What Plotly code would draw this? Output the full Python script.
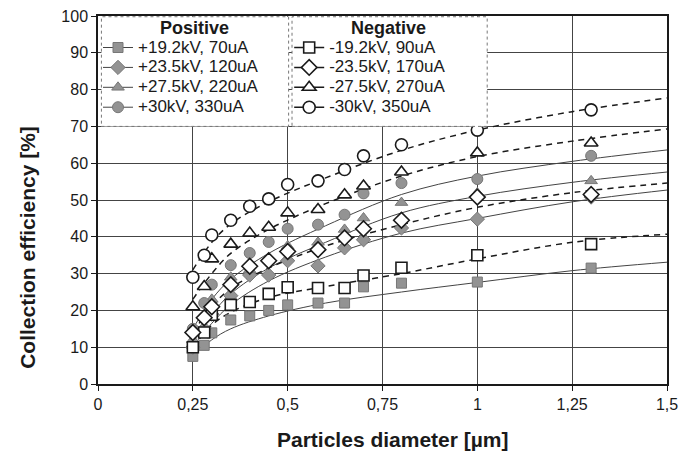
import plotly.graph_objects as go

# ---- data ----
diam = [0.25, 0.28, 0.30, 0.35, 0.40, 0.45, 0.50, 0.58, 0.65, 0.70, 0.80, 1.00, 1.30]

pos_19 = [7.5, 10.5, 13.9, 17.4, 18.5, 20.0, 21.5, 22.0, 22.0, 26.4, 27.4, 27.7, 31.5]
pos_23 = [10.0, 15.0, 19.0, 24.0, 29.6, 29.6, 33.5, 32.1, 37.0, 39.2, 42.4, 44.8, 50.8]
pos_27 = [12.0, 18.0, 23.0, 29.0, 31.0, 34.2, 37.5, 38.5, 42.0, 45.1, 49.3, 51.9, 55.2]
pos_30 = [15.0, 22.0, 27.0, 32.3, 35.6, 38.6, 42.2, 43.3, 46.0, 51.8, 54.6, 55.7, 62.0]

neg_19 = [10.0, 14.0, 18.8, 21.5, 22.3, 24.5, 26.3, 26.1, 26.1, 29.5, 31.6, 35.0, 38.0]
neg_23 = [14.0, 18.0, 21.0, 27.0, 32.0, 33.5, 36.0, 36.5, 39.7, 42.2, 44.5, 50.8, 51.5]
neg_27 = [21.0, 26.5, 34.0, 38.0, 41.0, 42.6, 46.5, 47.4, 51.4, 53.8, 57.6, 62.8, 65.5]
neg_30 = [29.0, 35.0, 40.5, 44.5, 48.3, 50.3, 54.2, 55.2, 58.3, 62.0, 65.0, 69.0, 74.5]

# trend lines
trend_x = [0.25, 0.30, 0.35, 0.45, 0.60, 0.80, 1.00, 1.25, 1.50]
trend_pos_19 = [7.5, 12.0, 15.0, 18.5, 22.0, 25.0, 27.6, 30.8, 33.1]
trend_pos_23 = [10.0, 16.5, 21.5, 28.0, 34.5, 41.0, 45.0, 49.5, 52.7]
trend_pos_27 = [12.0, 19.0, 24.5, 31.5, 38.5, 46.5, 51.0, 54.8, 57.6]
trend_pos_30 = [15.0, 23.0, 28.5, 35.5, 43.0, 51.5, 56.5, 60.5, 63.6]
trend_neg_19 = [10.0, 16.0, 19.5, 23.5, 26.5, 30.0, 34.0, 38.5, 40.7]
trend_neg_23 = [14.0, 21.0, 26.0, 31.5, 37.5, 43.3, 48.0, 52.0, 54.6]
trend_neg_27 = [23.0, 30.0, 35.5, 42.0, 49.0, 56.5, 61.8, 66.0, 69.3]
trend_neg_30 = [31.0, 38.5, 43.5, 49.5, 56.0, 63.5, 69.0, 74.0, 77.7]

pos_labels = ["+19.2kV, 70uA", "+23.5kV, 120uA", "+27.5kV, 220uA", "+30kV, 330uA"]
neg_labels = ["-19.2kV, 90uA", "-23.5kV, 170uA", "-27.5kV, 270uA", "-30kV, 350uA"]

x_ticks = [0, 0.25, 0.5, 0.75, 1, 1.25, 1.5]
y_ticks = list(range(0, 101, 10))

symbols = ["square", "diamond", "triangle-up", "circle"]
pos_series = [pos_19, pos_23, pos_27, pos_30]
neg_series = [neg_19, neg_23, neg_27, neg_30]
pos_trends = [trend_pos_19, trend_pos_23, trend_pos_27, trend_pos_30]
neg_trends = [trend_neg_19, trend_neg_23, trend_neg_27, trend_neg_30]

GRAY = "#939393"
GRAY_EDGE = "#777777"
INK = "#1a1a1a"
msize = [10, 11, 11, 11]

fig = go.Figure()

# trend lines
for tr in pos_trends:
    fig.add_trace(go.Scatter(x=trend_x, y=tr, mode="lines", line=dict(color="#444", width=1, shape="spline"),
                             showlegend=False, hoverinfo="skip"))
for tr in neg_trends:
    fig.add_trace(go.Scatter(x=trend_x, y=tr, mode="lines",
                             line=dict(color=INK, width=1.5, dash="6px,5px", shape="spline"),
                             showlegend=False, hoverinfo="skip"))

# markers
for ser, sym, ms in zip(pos_series, symbols, msize):
    fig.add_trace(go.Scatter(x=diam, y=ser, mode="markers", showlegend=False,
                             marker=dict(symbol=sym, size=ms, color=GRAY, line=dict(color=GRAY_EDGE, width=1))))
for ser, sym, ms in zip(neg_series, symbols, msize):
    fig.add_trace(go.Scatter(x=diam, y=ser, mode="markers", showlegend=False,
                             marker=dict(symbol=sym, size=ms + 1, color="white", line=dict(color=INK, width=1.6))))


def big(s):
    return '<span style="font-size:17px">' + s + '</span>'


# legend entries
for lab, sym, ms in zip(pos_labels, symbols, msize):
    fig.add_trace(go.Scatter(x=[None], y=[None], mode="lines+markers", name=big(lab), legend="legend",
                             line=dict(color="#444", width=1),
                             marker=dict(symbol=sym, size=ms, color=GRAY, line=dict(color=GRAY_EDGE, width=1))))
for lab, sym, ms in zip(neg_labels, symbols, msize):
    fig.add_trace(go.Scatter(x=[None], y=[None], mode="lines+markers", name=big(lab), legend="legend2",
                             line=dict(color=INK, width=1.5),
                             marker=dict(symbol=sym, size=ms + 1, color="white", line=dict(color=INK, width=1.6))))

FONT = "Liberation Sans, Arial, sans-serif"

legend_common = dict(
    bgcolor="rgba(0,0,0,0)", borderwidth=0, font=dict(family=FONT, size=13, color=INK),
    itemwidth=30, tracegroupgap=0, yanchor="top", xanchor="left", y=0.955,
)

fig.update_layout(
    width=684, height=447,
    margin=dict(l=90, r=25, t=8, b=71, autoexpand=False),
    paper_bgcolor="white", plot_bgcolor="white",
    separators=",.",
    font=dict(family=FONT, color=INK, size=16),
    legend=dict(x=0.0, **legend_common),
    legend2=dict(x=0.336, **legend_common),
    xaxis=dict(range=[0, 1.5], tickvals=x_ticks, showgrid=True, gridcolor="#444", gridwidth=1,
               showline=True, linecolor=INK, linewidth=1.5, mirror=True, ticks="outside", ticklen=5,
               tickcolor=INK, zeroline=False, tickfont=dict(size=16), automargin=False,
               ticklabeloverflow="allow"),
    yaxis=dict(range=[0, 100], tickvals=y_ticks, showgrid=True, gridcolor="#444", gridwidth=1,
               showline=True, linecolor=INK, linewidth=1.5, mirror=True, ticks="outside", ticklen=5,
               tickcolor=INK, zeroline=False, tickfont=dict(size=16), automargin=False,
               ticklabeloverflow="allow"),
    annotations=[
        dict(text="<b>Collection efficiency [%]</b>", xref="paper", yref="paper", x=-0.123, y=0.37,
             xanchor="center", yanchor="middle", textangle=-90, showarrow=False,
             font=dict(family=FONT, size=21, color=INK)),
        dict(text="<b>Particles diameter [µm]</b>", xref="paper", yref="paper", x=0.518, y=-0.152,
             xanchor="center", yanchor="middle", showarrow=False,
             font=dict(family=FONT, size=21, color=INK)),
        dict(text="<b>Positive</b>", xref="paper", yref="paper", x=0.17, y=0.968,
             xanchor="center", yanchor="middle", showarrow=False, font=dict(family=FONT, size=18, color=INK)),
        dict(text="<b>Negative</b>", xref="paper", yref="paper", x=0.51, y=0.968,
             xanchor="center", yanchor="middle", showarrow=False, font=dict(family=FONT, size=18, color=INK)),
    ],
    shapes=[
        dict(type="rect", xref="paper", yref="paper", x0=0.006, x1=0.335, y0=0.70, y1=0.998,
             fillcolor="white", line=dict(color="#777", width=1, dash="dot"), layer="above"),
        dict(type="rect", xref="paper", yref="paper", x0=0.341, x1=0.684, y0=0.70, y1=0.998,
             fillcolor="white", line=dict(color="#777", width=1, dash="dot"), layer="above"),
    ],
)

fig.write_html("out.html")
